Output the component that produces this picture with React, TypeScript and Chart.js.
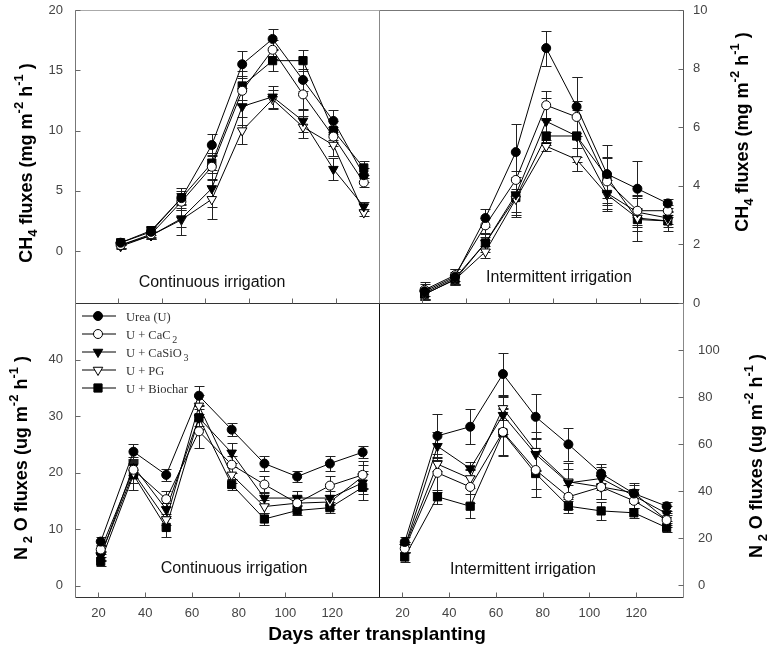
import React, { useEffect, useRef } from "react";
import { Chart, registerables } from "chart.js";
Chart.register(...registerables);

const W = 773;
const H = 648;
const SANS = "'Liberation Sans', Arial, sans-serif";
const SERIF = "'Liberation Serif', 'Times New Roman', serif";

// ---------------- data ----------------
const days = [21, 35, 49, 63, 77, 91, 105, 119, 133];
const xTicks = [20, 40, 60, 80, 100, 120];
const seriesNames = ["Urea (U)", "U + CaC2", "U + CaSiO3", "U + PG", "U + Biochar"];

const ch4ContTicks = [0, 5, 10, 15, 20];
const ch4IntTicks = [0, 2, 4, 6, 8, 10];
const n2oContTicks = [0, 10, 20, 30, 40];
const n2oIntTicks = [0, 20, 40, 60, 80, 100];

// CH4, continuous irrigation
const ch4ContUrea = [0.7, 1.6, 4.4, 8.8, 15.5, 17.6, 14.2, 10.8, 6.3];
const ch4ContUreaErr = [0.2, 0.4, 0.8, 0.9, 1.1, 0.8, 0.9, 0.9, 0.6];
const ch4ContCaC2 = [0.5, 1.4, 4.1, 7.0, 13.3, 16.7, 13.0, 9.5, 5.7];
const ch4ContCaC2Err = [0.2, 0.3, 0.7, 1.0, 1.2, 0.8, 1.2, 0.8, 0.4];
const ch4ContCaSiO3 = [0.5, 1.3, 2.7, 5.2, 12.0, 12.8, 10.8, 6.8, 3.7];
const ch4ContCaSiO3Err = [0.2, 0.3, 0.7, 1.5, 1.5, 0.9, 0.9, 0.9, 0.4];
const ch4ContPG = [0.4, 1.3, 2.6, 4.3, 10.0, 12.6, 10.3, 8.8, 3.2];
const ch4ContPGErr = [0.2, 0.3, 1.3, 1.6, 1.1, 0.8, 0.9, 0.9, 0.3];
const ch4ContBiochar = [0.7, 1.7, 4.4, 7.3, 13.7, 15.8, 15.8, 10.0, 6.9];
const ch4ContBiocharErr = [0.2, 0.4, 0.6, 0.8, 1.2, 0.9, 0.9, 0.8, 0.6];

// CH4, intermittent irrigation
const ch4IntUrea = [0.4, 0.9, 2.9, 5.15, 8.7, 6.7, 4.4, 3.9, 3.4];
const ch4IntUreaErr = [0.3, 0.25, 0.3, 0.95, 0.6, 1.0, 1.0, 0.95, 0.15];
const ch4IntCaC2 = [0.45, 0.95, 2.65, 4.2, 6.75, 6.35, 4.15, 3.15, 3.15];
const ch4IntCaC2Err = [0.2, 0.2, 0.25, 0.3, 0.5, 1.35, 0.8, 0.5, 0.2];
const ch4IntCaSiO3 = [0.35, 0.85, 2.05, 3.7, 6.2, 5.7, 3.75, 3.1, 2.9];
const ch4IntCaSiO3Err = [0.2, 0.2, 0.2, 0.6, 0.8, 1.2, 0.6, 0.5, 0.2];
const ch4IntPG = [0.3, 0.8, 1.75, 3.55, 5.35, 4.9, 3.7, 2.9, 2.8];
const ch4IntPGErr = [0.2, 0.2, 0.2, 0.6, 0.15, 0.4, 0.5, 0.8, 0.2];
const ch4IntBiochar = [0.3, 0.8, 2.05, 3.6, 5.7, 5.7, 4.3, 2.85, 2.8];
const ch4IntBiocharErr = [0.15, 0.2, 0.3, 0.6, 0.15, 0.9, 0.7, 0.4, 0.35];

// N2O, continuous irrigation
const n2oContUrea = [7.8, 23.7, 19.6, 33.6, 27.6, 21.6, 19.3, 21.6, 23.6];
const n2oContUreaErr = [0.8, 1.3, 1.0, 1.7, 1.2, 1.3, 1.0, 1.4, 1.1];
const n2oContCaC2 = [6.4, 20.5, 15.3, 27.3, 21.4, 17.9, 14.6, 17.7, 19.6];
const n2oContCaC2Err = [0.8, 1.5, 1.4, 3.0, 1.5, 1.5, 1.3, 1.7, 2.5];
const n2oContCaSiO3 = [5.2, 21.1, 13.5, 29.7, 23.5, 15.5, 15.5, 15.5, 18.2];
const n2oContCaSiO3Err = [0.8, 1.6, 1.2, 2.0, 1.8, 1.0, 1.2, 1.2, 2.0];
const n2oContPG = [5.4, 20.0, 11.7, 31.8, 19.6, 14.0, 14.6, 14.8, 19.3];
const n2oContPGErr = [0.8, 1.8, 1.0, 2.0, 1.4, 1.2, 1.0, 1.2, 2.0];
const n2oContBiochar = [4.3, 19.6, 10.3, 29.7, 17.9, 11.8, 13.3, 13.8, 17.4];
const n2oContBiocharErr = [0.8, 2.6, 1.7, 1.5, 1.0, 1.0, 0.8, 1.0, 2.3];

// N2O, intermittent irrigation
const n2oIntUrea = [18.4, 63.5, 67.4, 89.8, 71.6, 59.9, 47.5, 39.0, 33.6];
const n2oIntUreaErr = [2, 9.5, 7.5, 9, 9.5, 7, 4, 3.5, 2];
const n2oIntCaC2 = [15.6, 47.8, 41.8, 65.2, 49.0, 37.6, 41.8, 35.9, 27.7];
const n2oIntCaC2Err = [2, 8, 7, 10, 8, 5, 5, 3, 2];
const n2oIntCaSiO3 = [16.3, 59.1, 49.6, 72.3, 55.7, 43.5, 45.4, 38.0, 30.5];
const n2oIntCaSiO3Err = [2, 6, 3, 8, 7, 6, 5, 3, 3];
const n2oIntPG = [16.3, 51.5, 45.4, 75.2, 57.0, 44.0, 41.8, 39.3, 27.7];
const n2oIntPGErr = [2, 3, 4, 5, 8, 8, 5, 4, 3];
const n2oIntBiochar = [12.0, 37.6, 33.6, 64.8, 47.5, 33.6, 31.6, 30.8, 24.5];
const n2oIntBiocharErr = [2, 3, 5, 10, 10, 3, 4, 2, 2];

// ---------------- styles ----------------
const markerStyles = [
  { style: "circle", rot: 0, r: 4.5, fill: "#000" },
  { style: "circle", rot: 0, r: 4.5, fill: "#fff" },
  { style: "triangle", rot: 180, r: 5.5, fill: "#000" },
  { style: "triangle", rot: 180, r: 5.5, fill: "#fff" },
  { style: "rect", rot: 0, r: 5.8, fill: "#000" },
];

type Run = { t: string; s: number; b?: boolean; dy?: number; f?: string };

function drawRich(
  ctx: CanvasRenderingContext2D,
  runs: Run[],
  x: number,
  y: number,
  opts: { rot?: number; align?: "left" | "center"; base?: number; color?: string; family?: string }
) {
  const fam = opts.family || SANS;
  ctx.save();
  ctx.translate(x, y);
  if (opts.rot) ctx.rotate(opts.rot);
  const fonts = runs.map((r) => `${r.b ? "bold " : ""}${r.s}px ${r.f || fam}`);
  const widths = runs.map((r, i) => {
    ctx.font = fonts[i];
    return ctx.measureText(r.t).width;
  });
  const total = widths.reduce((a, b) => a + b, 0);
  let cx = opts.align === "left" ? 0 : -total / 2;
  ctx.fillStyle = opts.color || "#000";
  ctx.textAlign = "left";
  ctx.textBaseline = "alphabetic";
  runs.forEach((r, i) => {
    ctx.font = fonts[i];
    ctx.fillText(r.t, cx, (opts.base || 0) + (r.dy || 0));
    cx += widths[i];
  });
  ctx.restore();
}

function drawMarker(ctx: CanvasRenderingContext2D, style: string, x: number, y: number, r: number, fill: string) {
  ctx.beginPath();
  if (style === "circle") {
    ctx.arc(x, y, r, 0, Math.PI * 2);
  } else if (style === "triangle") {
    for (let k = 0; k < 3; k++) {
      const a = Math.PI + (k * 2 * Math.PI) / 3;
      const px = x + Math.sin(a) * r;
      const py = y - Math.cos(a) * r;
      if (k === 0) ctx.moveTo(px, py);
      else ctx.lineTo(px, py);
    }
    ctx.closePath();
  } else {
    const s = Math.SQRT1_2 * r;
    ctx.rect(x - s, y - s, 2 * s, 2 * s);
  }
  ctx.fillStyle = fill;
  ctx.fill();
  ctx.strokeStyle = "#000";
  ctx.lineWidth = 1;
  ctx.stroke();
}

const ch4Title: Run[] = [
  { t: "CH", s: 18, b: true },
  { t: "4", s: 13, b: true, dy: 5 },
  { t: " fluxes (mg m", s: 18, b: true },
  { t: "-2", s: 13, b: true, dy: -9 },
  { t: " h", s: 18, b: true },
  { t: "-1", s: 13, b: true, dy: -9 },
  { t: " )", s: 18, b: true },
];
const n2oTitle: Run[] = [
  { t: "N", s: 18, b: true },
  { t: " 2", s: 13, b: true, dy: 5 },
  { t: " O fluxes (ug m", s: 18, b: true },
  { t: "-2", s: 13, b: true, dy: -9 },
  { t: " h", s: 18, b: true },
  { t: "-1", s: 13, b: true, dy: -9 },
  { t: " )", s: 18, b: true },
];

const legendRuns: Run[][] = [
  [{ t: "Urea (U)", s: 12.5, f: SERIF }],
  [{ t: "U + CaC", s: 12.5, f: SERIF }, { t: " ", s: 7, f: SERIF }, { t: "2", s: 10, dy: 4, f: SERIF }],
  [{ t: "U + CaSiO", s: 12.5, f: SERIF }, { t: " ", s: 7, f: SERIF }, { t: "3", s: 10, dy: 4, f: SERIF }],
  [{ t: "U + PG", s: 12.5, f: SERIF }],
  [{ t: "U + Biochar", s: 12.5, f: SERIF }],
];

type Frame = { top?: string; left?: string; right?: string; bottom?: string };

type PanelDef = {
  area: { l: number; t: number; r: number; b: number };
  xMin: number;
  xMax: number;
  yMin: number;
  yMax: number;
  yTicks: number[];
  yPos: "left" | "right";
  yPad: number;
  showX: boolean;
  series: number[][];
  errors: number[][];
  label: string;
  labelX: number;
  labelY: number;
  title: Run[];
  titleX: number;
  titleY: number;
  frame: Frame;
  legend?: boolean;
  xTitle?: boolean;
};

const panels: PanelDef[] = [
  {
    area: { l: 75, t: 10, r: 379, b: 303 },
    xMin: 0, xMax: 140, yMin: -4.3, yMax: 20, yTicks: ch4ContTicks, yPos: "left", yPad: 12, showX: false,
    series: [ch4ContUrea, ch4ContCaC2, ch4ContCaSiO3, ch4ContPG, ch4ContBiochar],
    errors: [ch4ContUreaErr, ch4ContCaC2Err, ch4ContCaSiO3Err, ch4ContPGErr, ch4ContBiocharErr],
    label: "Continuous irrigation", labelX: 212, labelY: 281,
    title: ch4Title, titleX: 25, titleY: 163,
    frame: { top: "#aaa", left: "#777", bottom: "#333" },
  },
  {
    area: { l: 379, t: 10, r: 683, b: 303 },
    xMin: 0, xMax: 140, yMin: 0, yMax: 10, yTicks: ch4IntTicks, yPos: "right", yPad: 10, showX: false,
    series: [ch4IntUrea, ch4IntCaC2, ch4IntCaSiO3, ch4IntPG, ch4IntBiochar],
    errors: [ch4IntUreaErr, ch4IntCaC2Err, ch4IntCaSiO3Err, ch4IntPGErr, ch4IntBiocharErr],
    label: "Intermittent irrigation", labelX: 559, labelY: 276,
    title: ch4Title, titleX: 741, titleY: 132,
    frame: { top: "#777", left: "#888", right: "#555", bottom: "#333" },
  },
  {
    area: { l: 75, t: 303, r: 379, b: 597 },
    xMin: 10, xMax: 140, yMin: -2, yMax: 50, yTicks: n2oContTicks, yPos: "left", yPad: 12, showX: true,
    series: [n2oContUrea, n2oContCaC2, n2oContCaSiO3, n2oContPG, n2oContBiochar],
    errors: [n2oContUreaErr, n2oContCaC2Err, n2oContCaSiO3Err, n2oContPGErr, n2oContBiocharErr],
    label: "Continuous irrigation", labelX: 234, labelY: 567,
    title: n2oTitle, titleX: 20, titleY: 458,
    frame: { left: "#777", bottom: "#333" },
    legend: true,
    xTitle: true,
  },
  {
    area: { l: 379, t: 303, r: 683, b: 597 },
    xMin: 10, xMax: 140, yMin: -5, yMax: 120, yTicks: n2oIntTicks, yPos: "right", yPad: 15, showX: true,
    series: [n2oIntUrea, n2oIntCaC2, n2oIntCaSiO3, n2oIntPG, n2oIntBiochar],
    errors: [n2oIntUreaErr, n2oIntCaC2Err, n2oIntCaSiO3Err, n2oIntPGErr, n2oIntBiocharErr],
    label: "Intermittent irrigation", labelX: 523, labelY: 568,
    title: n2oTitle, titleX: 755, titleY: 456,
    frame: { left: "#111", right: "#888", bottom: "#333" },
  },
];

const CAP = 5;
const TICK = 5;

function zeroPad(s: any) {
  s.paddingLeft = 0;
  s.paddingRight = 0;
  s.paddingTop = 0;
  s.paddingBottom = 0;
}

function decor(def: PanelDef) {
  return {
    id: "decor",
    beforeDatasetsDraw(chart: any) {
      const ctx: CanvasRenderingContext2D = chart.ctx;
      const xs = chart.scales.x;
      const ys = chart.scales.y;
      ctx.save();
      ctx.strokeStyle = "#222";
      ctx.lineWidth = 1;
      chart.data.datasets.forEach((ds: any) => {
        ds.data.forEach((p: any, j: number) => {
          const e = ds.err[j];
          const px = Math.round(xs.getPixelForValue(p.x)) + 0.5;
          const y1 = Math.round(ys.getPixelForValue(p.y + e)) + 0.5;
          const y2 = Math.round(ys.getPixelForValue(p.y - e)) + 0.5;
          ctx.beginPath();
          ctx.moveTo(px, y1);
          ctx.lineTo(px, y2);
          ctx.moveTo(px - CAP, y1);
          ctx.lineTo(px + CAP, y1);
          ctx.moveTo(px - CAP, y2);
          ctx.lineTo(px + CAP, y2);
          ctx.stroke();
        });
      });
      ctx.restore();
    },
    afterDraw(chart: any) {
      const ctx: CanvasRenderingContext2D = chart.ctx;
      const { left, top, right, bottom } = chart.chartArea;
      const xs = chart.scales.x;
      const ys = chart.scales.y;
      const L = Math.round(left) + 0.5;
      const R = Math.round(right) + 0.5;
      const T = Math.round(top) + 0.5;
      const B = Math.round(bottom) + 0.5;
      ctx.save();
      ctx.lineWidth = 1;
      const seg = (x1: number, y1: number, x2: number, y2: number, c: string) => {
        ctx.strokeStyle = c;
        ctx.beginPath();
        ctx.moveTo(x1, y1);
        ctx.lineTo(x2, y2);
        ctx.stroke();
      };
      const f = def.frame;
      if (f.top) seg(L, T, R, T, f.top);
      if (f.bottom) seg(L, B, R, B, f.bottom);
      if (f.left) seg(L, T, L, B, f.left);
      if (f.right) seg(R, T, R, B, f.right);
      // inward ticks
      def.yTicks.forEach((v) => {
        const y = Math.round(ys.getPixelForValue(v)) + 0.5;
        if (def.yPos === "left") seg(L, y, L + TICK, y, "#666");
        else seg(R - TICK, y, R, y, "#666");
      });
      xTicks.forEach((v) => {
        const x = Math.round(xs.getPixelForValue(v)) + 0.5;
        seg(x, B, x, B - TICK, "#666");
      });
      // panel label
      drawRich(ctx, [{ t: def.label, s: 16 }], def.labelX, def.labelY, { base: 6, color: "#111" });
      // axis title
      drawRich(ctx, def.title, def.titleX, def.titleY, { rot: -Math.PI / 2, base: 6.5, color: "#000" });
      if (def.legend) {
        markerStyles.forEach((m, i) => {
          const y = top + 13 + i * 18;
          seg(left + 7, y, left + 41, y, "#000");
          drawMarker(ctx, m.style, left + 23, y, m.r, m.fill);
          drawRich(ctx, legendRuns[i], left + 51, y, { align: "left", base: 4.5, color: "#333", family: SERIF });
        });
      }
      if (def.xTitle) {
        drawRich(ctx, [{ t: "Days after transplanting", s: 19, b: true }], 377, 633, { base: 7, color: "#000" });
      }
      ctx.restore();
    },
  };
}

function buildConfig(def: PanelDef): any {
  const { l, t, r, b } = def.area;
  const YW = 60;
  const XH = 30;
  return {
    type: "line",
    data: {
      datasets: def.series.map((vals, i) => ({
        label: seriesNames[i],
        data: days.map((d, j) => ({ x: d, y: vals[j] })),
        err: def.errors[i],
        borderColor: "#000",
        borderWidth: 1,
        tension: 0,
        fill: false,
        pointStyle: markerStyles[i].style,
        pointRotation: markerStyles[i].rot,
        pointRadius: markerStyles[i].r,
        pointBackgroundColor: markerStyles[i].fill,
        pointBorderColor: "#000",
        pointBorderWidth: 1,
        clip: 8,
      })),
    },
    options: {
      animation: false,
      responsive: false,
      devicePixelRatio: 1,
      events: [],
      layout: {
        padding: {
          left: def.yPos === "left" ? l - YW : l,
          right: def.yPos === "right" ? W - r - YW : W - r,
          top: t,
          bottom: def.showX ? H - b - XH : H - b,
        },
      },
      plugins: { legend: { display: false }, tooltip: { enabled: false } },
      scales: {
        x: {
          type: "linear",
          position: "bottom",
          min: def.xMin,
          max: def.xMax,
          grid: { display: false, drawTicks: false },
          border: { display: false },
          ticks: { display: def.showX, autoSkip: false, maxRotation: 0, padding: 9, color: "#444", font: { size: 13, family: SANS } },
          afterBuildTicks: (s: any) => {
            s.ticks = xTicks.map((v) => ({ value: v }));
          },
          afterFit: (s: any) => {
            s.height = def.showX ? XH : 0;
            zeroPad(s);
          },
        },
        y: {
          type: "linear",
          position: def.yPos,
          min: def.yMin,
          max: def.yMax,
          grid: { display: false, drawTicks: false },
          border: { display: false },
          ticks: { autoSkip: false, padding: def.yPad, color: "#444", font: { size: 13, family: SANS } },
          afterBuildTicks: (s: any) => {
            s.ticks = def.yTicks.map((v) => ({ value: v }));
          },
          afterFit: (s: any) => {
            s.width = YW;
            zeroPad(s);
          },
        },
      },
    },
    plugins: [decor(def)],
  };
}

function Panel({ def }: { def: PanelDef }) {
  const ref = useRef<HTMLCanvasElement>(null);
  useEffect(() => {
    if (!ref.current) return;
    const chart = new Chart(ref.current, buildConfig(def));
    return () => chart.destroy();
  }, [def]);
  return (
    <canvas
      ref={ref}
      width={W}
      height={H}
      style={{ position: "absolute", left: 0, top: 0, width: W, height: H }}
    />
  );
}

export default function App() {
  return (
    <div style={{ position: "absolute", left: 0, top: 0, width: W, height: H, background: "#fff" }}>
      {panels.map((p, i) => (
        <Panel key={i} def={p} />
      ))}
    </div>
  );
}
